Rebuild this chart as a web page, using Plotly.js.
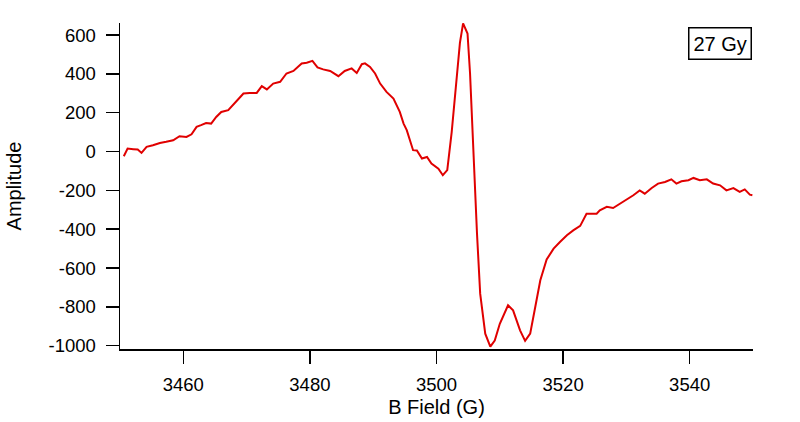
<!DOCTYPE html>
<html>
<head>
<meta charset="utf-8">
<script src="https://cdn.plot.ly/plotly-3.0.1.min.js"></script>
<style>html,body{margin:0;padding:0;background:#fff;}#chart{width:800px;height:422px;}</style>
</head>
<body>
<div id="chart"></div>
<script>
const bField = [
 3450.6,3451.2,3452.1,3452.8,3453.4,3454.2,3455.2,3456.3,3457.3,3458.4,
 3459.4,3460.5,3461.3,3462.1,3462.8,3463.6,3464.4,3465.2,3466.0,3467.1,
 3469.0,3469.5,3470.5,3471.6,3472.4,3473.2,3474.2,3475.3,3476.3,3477.4,
 3478.7,3479.5,3480.4,3481.2,3482.1,3483.2,3484.5,3485.5,3486.6,3487.4,
 3488.2,3488.7,3489.5,3490.3,3491.1,3492.1,3493.2,3494.2,3494.8,3495.3,
 3496.3,3496.9,3497.7,3498.5,3499.2,3500.3,3501.0,3501.7,3502.4,3503.2,
 3503.7,3504.2,3504.9,3505.3,3505.8,3506.4,3506.9,3507.7,3508.5,3509.2,
 3510.0,3511.3,3512.1,3513.2,3514.0,3514.8,3515.6,3516.4,3517.4,3518.5,
 3519.5,3520.6,3521.6,3522.7,3523.7,3525.3,3525.8,3526.9,3527.9,3529.0,
 3530.0,3531.1,3532.1,3532.9,3534.0,3535.0,3536.1,3537.1,3537.9,3538.7,
 3539.8,3540.6,3541.6,3542.7,3543.7,3544.8,3545.8,3546.9,3547.9,3548.7,
 3549.5,3549.9
];
const amplitude = [
 -24,15,12,10,-7,24,32,44,50,58,
 79,75,89,127,136,147,144,178,204,213,
 281,299,302,302,337,320,350,359,402,415,
 454,457,467,433,423,415,388,415,428,405,
 450,454,436,402,350,307,273,204,144,110,
 7,5,-36,-28,-62,-88,-122,-96,100,400,
 560,660,608,402,7,-423,-732,-938,-1005,-973,
 -887,-792,-818,-921,-975,-938,-801,-663,-556,-500,
 -466,-431,-406,-383,-320,-320,-303,-285,-291,-268,
 -251,-225,-200,-217,-188,-165,-157,-143,-165,-153,
 -148,-136,-148,-143,-165,-174,-200,-188,-208,-195,
 -222,-225
];
const xTicks = [3460,3480,3500,3520,3540];
const yTicks = [-1000,-800,-600,-400,-200,0,200,400,600];
const doseLabel = "27 Gy";

const font = "Liberation Sans, Arial, sans-serif";
Plotly.newPlot('chart', [{
  x: bField, y: amplitude, type: 'scatter', mode: 'lines',
  line: {color: '#e00000', width: 2, shape: 'linear'}, hoverinfo: 'skip'
}], {
  width: 800, height: 422,
  margin: {l: 120, r: 47, t: 23, b: 73},
  paper_bgcolor: '#fff', plot_bgcolor: '#fff',
  showlegend: false,
  font: {family: font, color: '#000', size: 18},
  xaxis: {
    range: [3450, 3550], tickvals: xTicks, ticktext: xTicks.map(String),
    showgrid: false, zeroline: false, showline: true, linecolor: '#000', linewidth: 1.5,
    ticks: 'outside', ticklen: 13, tickwidth: 1.5, tickcolor: '#000',
    ticklabelstandoff: 5,
    tickfont: {family: font, size: 18.5, color: '#000'},
    title: {text: 'B Field (G)', font: {family: font, size: 20, color: '#000'}, standoff: 6}
  },
  yaxis: {
    range: [-1017, 662], tickvals: yTicks, ticktext: yTicks.map(String),
    showgrid: false, zeroline: false, showline: true, linecolor: '#000', linewidth: 1.5,
    ticks: 'outside', ticklen: 13, tickwidth: 1.5, tickcolor: '#000',
    ticklabelstandoff: 6,
    tickfont: {family: font, size: 18.5, color: '#000'},
    title: {text: 'Amplitude', font: {family: font, size: 20, color: '#000'}, standoff: 21}
  },
  annotations: [{
    xref: 'paper', yref: 'paper', x: 0.999, y: 0.987, xanchor: 'right', yanchor: 'top',
    text: doseLabel, showarrow: false, font: {family: font, size: 20, color: '#000'},
    bordercolor: '#000', borderwidth: 1.5, borderpad: 4, bgcolor: '#fff'
  }]
}, {staticPlot: true, displayModeBar: false});
</script>
</body>
</html>
